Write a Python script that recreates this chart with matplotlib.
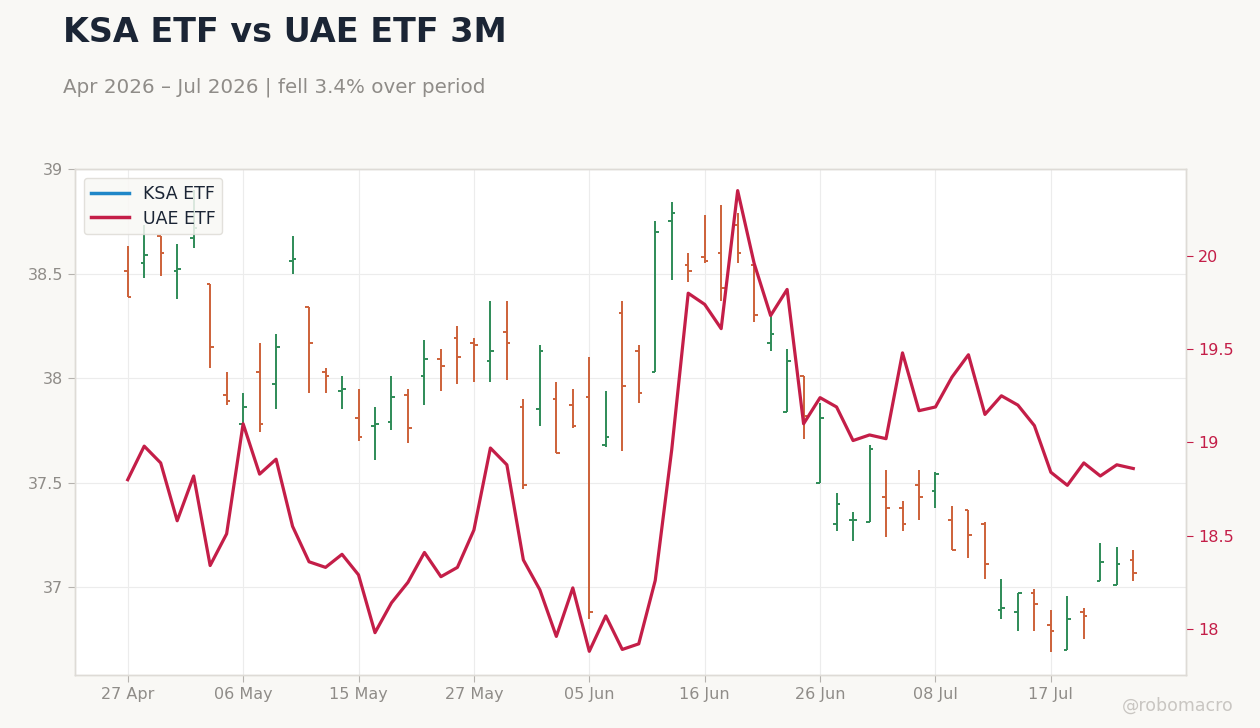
import matplotlib
matplotlib.use("Agg")
import matplotlib.pyplot as plt
from matplotlib.lines import Line2D
from matplotlib.ticker import FuncFormatter
import pandas as pd

# ── Data ──────────────────────────────────────────────────────────────────────
us_holidays = ["2026-05-25", "2026-06-19", "2026-07-03"]
dates = pd.bdate_range("2026-04-27", periods=62, freq="C", holidays=us_holidays)

ksa_open = [38.51, 38.55, 38.68, 38.51, 38.67, 38.45, 37.92, 37.78, 38.03, 37.97,
            38.56, 38.34, 38.03, 37.94, 37.81, 37.77, 37.79, 37.92, 38.01, 38.09,
            38.19, 38.17, 38.08, 38.22, 37.86, 37.85, 37.90, 37.87, 37.91, 37.68,
            38.31, 38.13, 38.03, 38.75, 38.54, 38.58, 38.60, 38.73, 38.54, 38.17,
            37.84, 38.01, 37.50, 37.30, 37.32, 37.31, 37.43, 37.38, 37.49, 37.46,
            37.32, 37.37, 37.30, 36.89, 36.88, 36.97, 36.82, 36.70, 36.88, 37.03,
            37.01, 37.13]
ksa_high = [38.63, 38.73, 38.68, 38.64, 38.90, 38.45, 38.03, 37.93, 38.17, 38.21,
            38.68, 38.34, 38.05, 38.01, 37.95, 37.86, 38.01, 37.95, 38.18, 38.14,
            38.25, 38.19, 38.37, 38.37, 37.90, 38.16, 37.98, 37.95, 38.10, 37.94,
            38.37, 38.16, 38.75, 38.84, 38.60, 38.78, 38.83, 38.79, 38.54, 38.31,
            38.14, 38.01, 37.88, 37.45, 37.36, 37.68, 37.56, 37.41, 37.56, 37.55,
            37.39, 37.37, 37.31, 37.04, 36.97, 36.99, 36.89, 36.96, 36.90, 37.21,
            37.19, 37.18]
ksa_low = [38.39, 38.48, 38.49, 38.38, 38.62, 38.05, 37.87, 37.77, 37.74, 37.85,
           38.50, 37.93, 37.93, 37.85, 37.70, 37.61, 37.75, 37.69, 37.87, 37.94,
           37.97, 37.98, 37.98, 37.99, 37.47, 37.77, 37.64, 37.76, 36.85, 37.67,
           37.65, 37.88, 38.03, 38.47, 38.46, 38.55, 38.37, 38.55, 38.27, 38.13,
           37.84, 37.71, 37.50, 37.27, 37.22, 37.31, 37.24, 37.27, 37.32, 37.38,
           37.18, 37.14, 37.04, 36.85, 36.79, 36.79, 36.69, 36.70, 36.75, 37.03,
           37.01, 37.03]
ksa_close = [38.39, 38.59, 38.60, 38.52, 38.72, 38.15, 37.89, 37.86, 37.78, 38.15,
             38.57, 38.17, 38.01, 37.95, 37.72, 37.78, 37.91, 37.76, 38.09, 38.06,
             38.10, 38.16, 38.13, 38.17, 37.49, 38.13, 37.64, 37.77, 36.88, 37.72,
             37.96, 37.93, 38.70, 38.79, 38.51, 38.56, 38.43, 38.60, 38.30, 38.21,
             38.08, 37.82, 37.81, 37.40, 37.32, 37.66, 37.38, 37.30, 37.43, 37.54,
             37.18, 37.25, 37.11, 36.90, 36.97, 36.92, 36.79, 36.85, 36.86, 37.12,
             37.11, 37.07]

uae_close = [18.80, 18.98, 18.89, 18.58, 18.82, 18.34, 18.51, 19.10, 18.83, 18.91,
             18.55, 18.36, 18.33, 18.40, 18.29, 17.98, 18.14, 18.25, 18.41, 18.28,
             18.33, 18.53, 18.97, 18.88, 18.37, 18.21, 17.96, 18.22, 17.88, 18.07,
             17.89, 17.92, 18.26, 18.96, 19.80, 19.74, 19.61, 20.35, 19.96, 19.68,
             19.82, 19.10, 19.24, 19.19, 19.01, 19.04, 19.02, 19.48, 19.17, 19.19,
             19.35, 19.47, 19.15, 19.25, 19.20, 19.09, 18.84, 18.77, 18.89, 18.82,
             18.88, 18.86]

ksa_label = "KSA ETF"
uae_label = "UAE ETF"
tick_every = 7

# ── Style ─────────────────────────────────────────────────────────────────────
BG = "#f9f8f5"
UP = "#2e8b57"
DOWN = "#cd6139"
UAE_COLOR = "#c41e48"
KSA_LEGEND = "#1f87c8"
TEXT = "#1b2535"
MUTED = "#8f8c88"
GRID = "#ececec"

fig = plt.figure(figsize=(12.6, 7.28), dpi=100, facecolor=BG)
ax = fig.add_axes([0.0595, 0.0728, 0.8818, 0.6951])
ax.set_facecolor("white")

x = list(range(len(dates)))
colors = [UP if c >= o else DOWN for o, c in zip(ksa_open, ksa_close)]
w = 0.22
ax.vlines(x, ksa_low, ksa_high, colors=colors, linewidth=1.4, zorder=2)
ax.hlines(ksa_open, [i - w for i in x], x, colors=colors, linewidth=1.4, zorder=2)
ax.hlines(ksa_close, x, [i + w for i in x], colors=colors, linewidth=1.4, zorder=2)

ax.set_xlim(-3.2, len(x) + 2.2)
ax.set_ylim(36.58, 39.0)
ax.set_yticks([37, 37.5, 38, 38.5, 39])
ax.yaxis.set_major_formatter(FuncFormatter(lambda v, _: f"{v:g}"))
ticks = x[::tick_every]
ax.set_xticks(ticks)
ax.set_xticklabels([dates[i].strftime("%d %b") for i in ticks])
ax.grid(True, color=GRID, linewidth=0.8, zorder=0)
ax.set_axisbelow(True)
ax.tick_params(axis="both", colors="#b5b2ae", labelcolor=MUTED, labelsize=11.5,
               length=5, width=0.8)

ax2 = ax.twinx()
ax2.plot(x, uae_close, color=UAE_COLOR, linewidth=2.3, zorder=3)
ax2.set_ylim(17.753, 20.466)
ax2.set_yticks([18, 18.5, 19, 19.5, 20])
ax2.yaxis.set_major_formatter(FuncFormatter(lambda v, _: f"{v:g}"))
ax2.tick_params(axis="y", colors=UAE_COLOR, labelcolor=UAE_COLOR, labelsize=11.5,
                length=5, width=0.8)

for a in (ax, ax2):
    for s in a.spines.values():
        s.set_color("#dedbd6")
        s.set_linewidth(1.0)

handles = [Line2D([], [], color=KSA_LEGEND, linewidth=2.5),
           Line2D([], [], color=UAE_COLOR, linewidth=2.5)]
leg = ax2.legend(handles, [ksa_label, uae_label], loc="upper left",
                 bbox_to_anchor=(0.0, 1.0), fontsize=12.5, frameon=True,
                 facecolor=BG, edgecolor="#dedbd6", framealpha=0.85,
                 handlelength=2.2, borderpad=0.4, labelspacing=0.4)
for t in leg.get_texts():
    t.set_color(TEXT)

pct = (ksa_close[-1] / ksa_close[0] - 1) * 100
direction = "fell" if pct < 0 else "rose"
fig.text(0.05, 0.9423, f"{ksa_label} vs {uae_label} 3M", fontsize=24,
         fontweight="bold", color=TEXT, va="baseline")
fig.text(0.05, 0.8736,
         f"{dates[0]:%b %Y} – {dates[-1]:%b %Y} | {direction} {abs(pct):.1f}% over period",
         fontsize=14.3, color=MUTED, va="baseline")
fig.text(0.979, 0.024, "@robomacro", fontsize=12.5, color="#c9c6c2",
         ha="right", va="baseline")

fig.savefig("out.png", dpi=100, facecolor=BG)
